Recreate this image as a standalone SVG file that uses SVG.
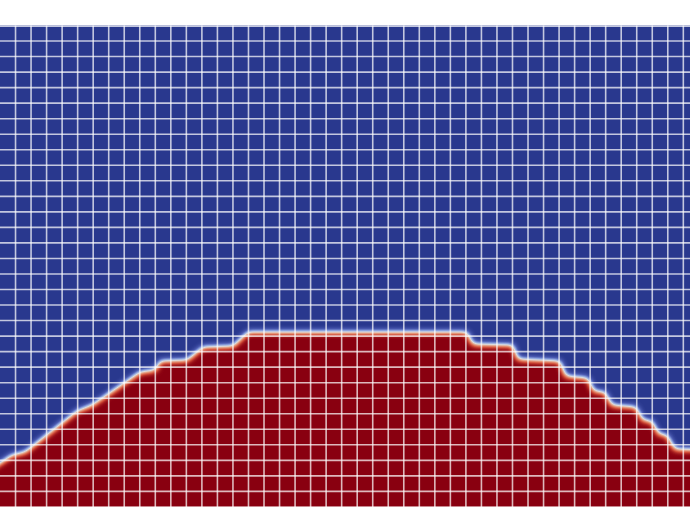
<svg xmlns="http://www.w3.org/2000/svg" width="690" height="507" viewBox="0 0 690 507">
  <style>
    .grid { fill: none; stroke: #ffffff; stroke-opacity: 0.72; stroke-width: 1.6; }
  </style>
  <defs>
    <clipPath id="fieldClip">
      <rect x="0" y="25.5" width="690" height="482"/>
    </clipPath>
    <filter id="coolwarm" filterUnits="userSpaceOnUse" x="-40" y="-40" width="780" height="620" color-interpolation-filters="sRGB">
      <feGaussianBlur stdDeviation="3.2"/>
      <feComponentTransfer>
        <feFuncR type="table" tableValues="0.161 0.300 0.560 0.867 0.900 0.820 0.541"/>
        <feFuncG type="table" tableValues="0.220 0.360 0.650 0.867 0.600 0.300 0.000"/>
        <feFuncB type="table" tableValues="0.557 0.700 0.880 0.867 0.480 0.220 0.063"/>
        <feFuncA type="linear" slope="0" intercept="1"/>
      </feComponentTransfer>
    </filter>
  </defs>
  <rect x="0" y="0" width="690" height="507" fill="#ffffff"/>
  <g id="field" clip-path="url(#fieldClip)">
    <g filter="url(#coolwarm)">
      <rect x="-40" y="-40" width="780" height="620" fill="#000000"/>
      <polygon id="liquid" fill="#ffffff" points="-20,476 0,463 12,455 25,452 77,411 92,405 140,372 155,370 160,361 187,360 203,347 233,346 248,332 467,332 473,344 513,345 518,359 560,361 566,376 588,378 594,391 605,392 612,405 636,407 643,420 652,421 659,434 667,435 675,449 740,451 740,580 -20,580"/>
    </g>
  </g>
  <g id="mesh">
    <path class="grid" d="M15.53 25.5V507M31.06 25.5V507M46.59 25.5V507M62.12 25.5V507M77.65 25.5V507M93.18 25.5V507M108.71 25.5V507M124.24 25.5V507M139.77 25.5V507M155.3 25.5V507M170.83 25.5V507M186.36 25.5V507M201.89 25.5V507M217.42 25.5V507M232.95 25.5V507M248.48 25.5V507M264.01 25.5V507M279.54 25.5V507M295.07 25.5V507M310.6 25.5V507M326.13 25.5V507M341.66 25.5V507M357.19 25.5V507M372.72 25.5V507M388.25 25.5V507M403.78 25.5V507M419.31 25.5V507M434.84 25.5V507M450.37 25.5V507M465.9 25.5V507M481.43 25.5V507M496.96 25.5V507M512.49 25.5V507M528.02 25.5V507M543.55 25.5V507M559.08 25.5V507M574.61 25.5V507M590.14 25.5V507M605.67 25.5V507M621.2 25.5V507M636.73 25.5V507M652.26 25.5V507M667.79 25.5V507M683.32 25.5V507"/>
    <path class="grid" d="M0 26.2H690M0 41.03H690M0 56.56H690M0 72.09H690M0 87.62H690M0 103.15H690M0 118.68H690M0 134.21H690M0 149.74H690M0 165.27H690M0 180.8H690M0 196.33H690M0 211.86H690M0 227.39H690M0 242.92H690M0 258.45H690M0 273.98H690M0 289.51H690M0 305.04H690M0 320.57H690M0 336.1H690M0 351.63H690M0 367.16H690M0 382.69H690M0 398.22H690M0 413.75H690M0 429.28H690M0 444.81H690M0 460.34H690M0 475.87H690M0 491.4H690M0 506.93H690"/>
  </g>
</svg>
